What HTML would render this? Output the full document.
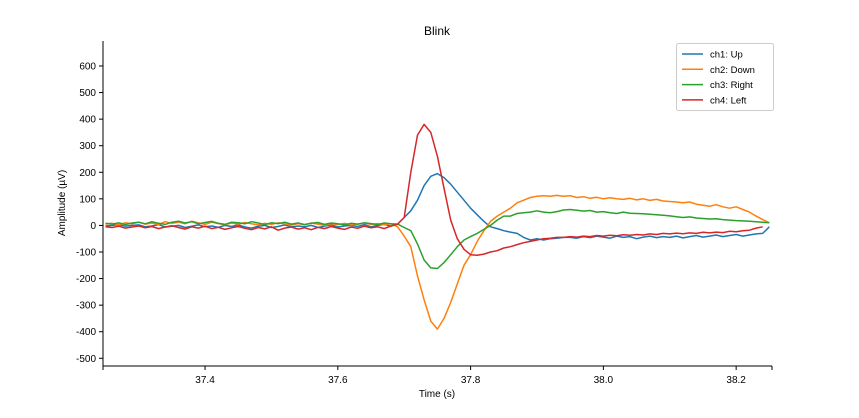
<!DOCTYPE html>
<html><head><meta charset="utf-8"><style>
html,body{margin:0;padding:0;background:#fff;}
svg{display:block;font-family:"Liberation Sans",sans-serif;}
</style></head><body>
<svg id="chart" width="859" height="418" viewBox="0 0 859 418" xmlns="http://www.w3.org/2000/svg">
<text x="437" y="35" font-size="12" text-anchor="middle">Blink</text>
<text x="437" y="397" font-size="10" text-anchor="middle">Time (s)</text>
<text transform="translate(65,203) rotate(-90)" font-size="10" text-anchor="middle">Amplitude (µV)</text>
<g id="axes"></g>
<g id="series"></g>
<g id="legend"></g>
</svg>
<script>
const t0 = 37.25;
const dt = 0.01;
const xTicks = [37.4, 37.6, 37.8, 38.0, 38.2];
const xTickLabels = ["37.4", "37.6", "37.8", "38.0", "38.2"];
const yTicks = [600, 500, 400, 300, 200, 100, 0, -100, -200, -300, -400, -500];
const seriesNames = ["ch1: Up", "ch2: Down", "ch3: Right", "ch4: Left"];
const seriesColors = ["#1f77b4", "#ff7f0e", "#2ca02c", "#d62728"];
const ch1 = [-2,0,3,-3,0,2,-5,-2,3,-6,-3,0,-8,-3,2,-5,-2,-7,0,-4,2,-6,-10,-3,0,-8,-4,2,-6,-2,-5,0,-8,-3,2,-6,-2,0,-4,3,-5,0,4,-3,5,
 30,55,95,150,185,195,180,155,125,95,65,40,15,-5,-12,-20,-25,-30,-45,-55,-50,-55,-50,-48,-45,-45,-48,-42,-46,-40,-44,-48,-40,-45,-42,-50,-44,-40,-46,-42,-45,-40,-47,-42,-38,-44,-40,-36,-42,-38,-34,-40,-36,-32,-30,-5];
const ch2 = [5,8,3,10,6,12,5,9,3,14,8,12,6,16,10,4,12,7,3,9,5,11,6,2,8,4,10,6,1,7,3,9,5,0,6,3,8,2,5,9,4,7,2,6,-5,
 -40,-80,-190,-280,-360,-390,-350,-290,-220,-150,-110,-60,-20,15,35,50,65,85,95,105,110,112,110,113,110,112,105,108,102,106,100,104,100,98,102,96,100,94,98,92,90,88,85,88,80,76,72,78,70,65,70,60,50,35,22,10];
const ch3 = [8,5,10,3,9,12,6,14,8,4,12,16,9,14,6,11,15,8,4,12,10,6,14,9,3,10,7,12,5,9,3,8,11,4,9,6,2,8,5,10,7,3,9,6,5,
 -8,-20,-70,-130,-160,-162,-140,-110,-80,-55,-42,-30,-15,0,20,35,35,45,48,50,55,50,48,52,58,60,57,54,56,50,52,48,45,50,46,45,44,42,40,38,36,33,30,32,28,26,24,25,22,20,18,17,16,14,12,10];
const ch4 = [-5,-8,-3,-10,-6,-2,-9,-4,-12,-6,-1,-8,-14,-5,-10,-3,-12,-7,-15,-9,-4,-11,-16,-8,-13,-5,-18,-10,-6,-14,-9,-16,-7,-12,-4,-10,-15,-6,-11,-3,-9,-5,-12,-2,5,
 30,200,340,380,350,260,140,20,-50,-90,-110,-112,-108,-100,-95,-85,-80,-72,-65,-60,-55,-50,-48,-45,-45,-42,-44,-40,-42,-38,-40,-37,-39,-35,-37,-34,-36,-32,-34,-30,-32,-29,-31,-28,-30,-26,-28,-25,-27,-22,-24,-20,-18,-10,-5];
const seriesData = [ch1, ch2, ch3, ch4];

const X0 = 103, X1 = 772, Y0 = 41, Y1 = 366;
const xMin = 37.2463, xMax = 38.254;
const yMin = -529, yMax = 694;
function xs(v){ return X0 + (v - xMin) / (xMax - xMin) * (X1 - X0); }
function ys(v){ return Y1 - (v - yMin) / (yMax - yMin) * (Y1 - Y0); }
const NS = "http://www.w3.org/2000/svg";
function mk(tag, attrs, parent){
  const e = document.createElementNS(NS, tag);
  for (const k in attrs) e.setAttribute(k, attrs[k]);
  parent.appendChild(e);
  return e;
}
const axes = document.getElementById('axes');
const yAxis = mk('line', {x1:X0, y1:Y0, x2:X0, y2:Y1, stroke:'#000', 'stroke-width':1}, axes);


const xAxis = mk('line', {x1:X0, y1:Y1, x2:X1, y2:Y1, stroke:'#000', 'stroke-width':1}, axes);


yTicks.forEach(v => {
  const y = ys(v);
  const tk = mk('line', {x1:X0-4, y1:y, x2:X0, y2:y, stroke:'#000'}, axes);
  
  
  const lb = mk('text', {x:X0-7, y:y+3.5, 'font-size':10, 'text-anchor':'end'}, axes);
  lb.textContent = String(v);
  
  
});
[X0, X1].forEach(x => {
  const tk = mk('line', {x1:x, y1:Y1, x2:x, y2:Y1+4, stroke:'#000'}, axes);
  
  
});
xTicks.forEach((v, i) => {
  const x = xs(v);
  const tk = mk('line', {x1:x, y1:Y1, x2:x, y2:Y1+4, stroke:'#000'}, axes);
  
  
  const lb = mk('text', {x:x, y:Y1+17, 'font-size':10, 'text-anchor':'middle'}, axes);
  lb.textContent = xTickLabels[i];
  
  
});
const sg = document.getElementById('series');
seriesData.forEach((arr, s) => {
  const pts = arr.map((v, i) => xs(t0 + i*dt).toFixed(1) + ',' + ys(v).toFixed(1)).join(' ');
  const pl = mk('polyline', {points:pts, fill:'none', stroke:seriesColors[s], 'stroke-width':1.5, 'stroke-linejoin':'round'}, sg);
  
  
});
const lg = document.getElementById('legend');
const box = mk('rect', {x:676.5, y:43.5, width:97, height:67, rx:2, fill:'#fff', stroke:'#ccc', 'stroke-width':1}, lg);


seriesNames.forEach((n, i) => {
  const y = 54 + i*15.3;
  const ln = mk('line', {x1:682, y1:y, x2:703, y2:y, stroke:seriesColors[i], 'stroke-width':1.5}, lg);
  
  
  const tx = mk('text', {x:710, y:y+3.5, 'font-size':9.5}, lg);
  tx.textContent = n;
  
  
});
</script>
</body></html>
